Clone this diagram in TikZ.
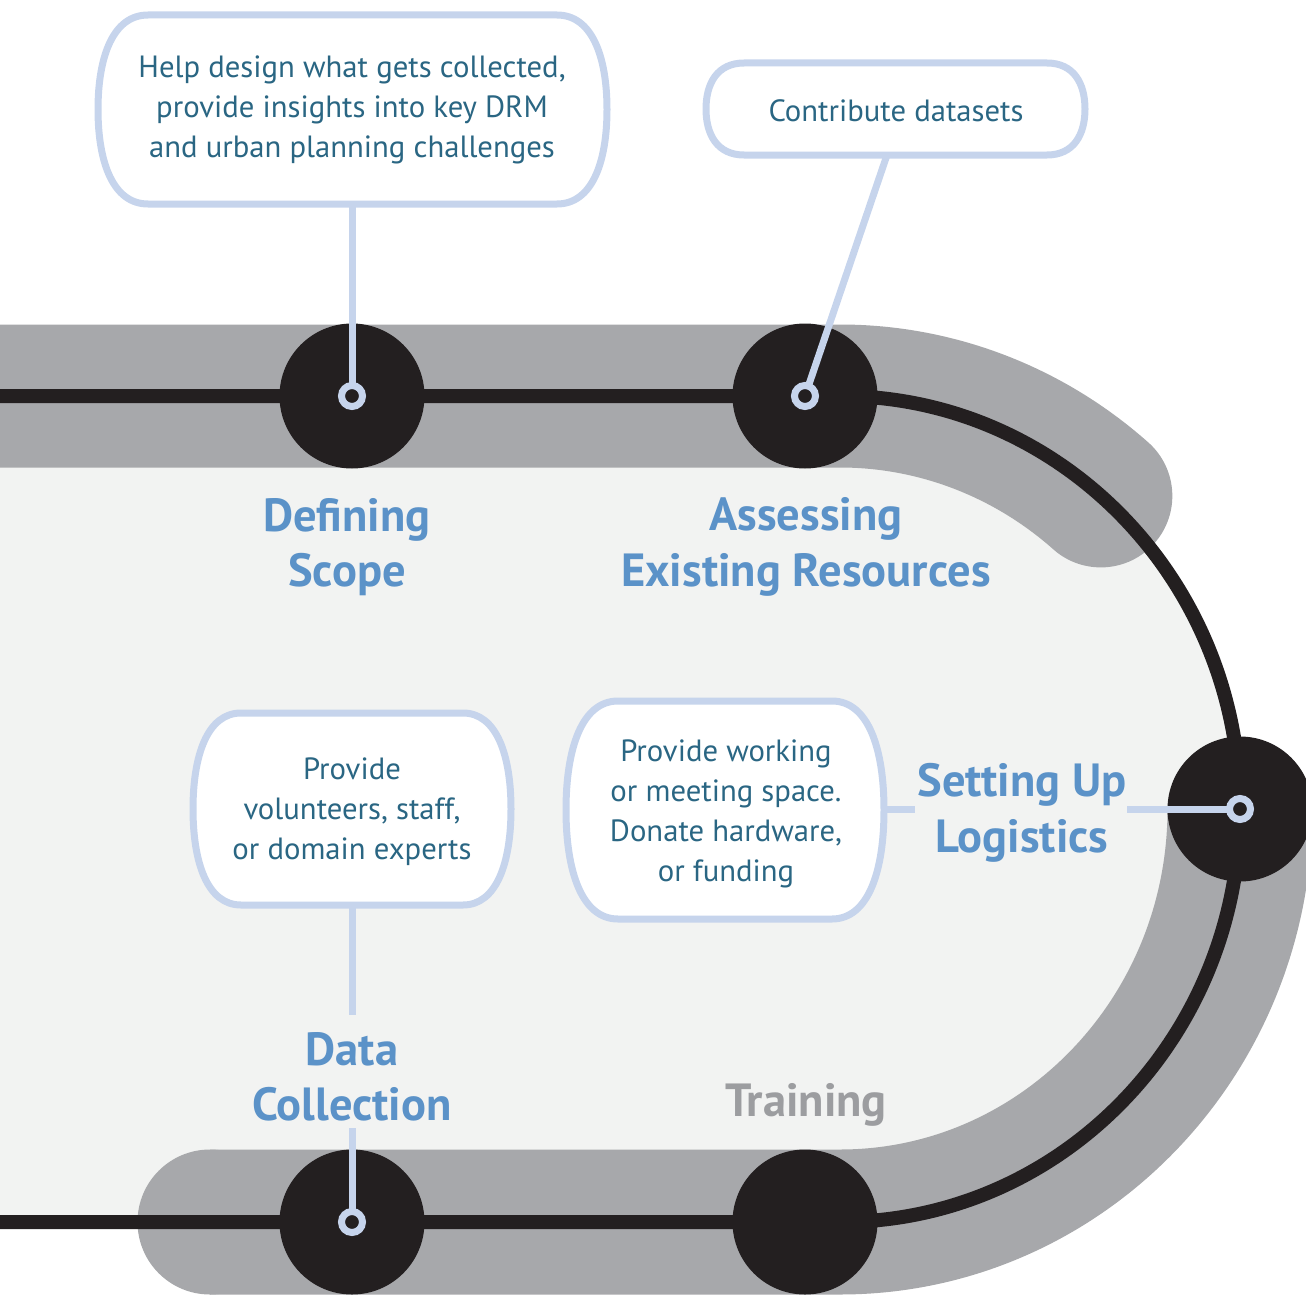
\documentclass[tikz,border=0pt]{standalone}
\usepackage{fontspec}
\setmainfont{PT Sans}
\definecolor{bandgray}{HTML}{A7A8AB}
\definecolor{fillgray}{HTML}{F2F3F2}
\definecolor{ink}{HTML}{231F20}
\definecolor{edgeblue}{HTML}{C6D4EC}
\definecolor{tealtext}{HTML}{2A6683}
\definecolor{lblue}{HTML}{5B92C8}
\definecolor{lgray}{HTML}{9C9DA0}
\tikzset{
 stage/.style={circle, fill=ink, minimum size=145pt, inner sep=0pt},
 ringmark/.style={draw=edgeblue, line width=7pt, fill=ink},
 calloutbox/.style={draw=edgeblue, fill=white, line width=7pt},
 conn/.style={draw=edgeblue, line width=7pt},
 ctext/.style={text=tealtext, align=center, font=\fontsize{30.7}{40}\selectfont, inner sep=0pt},
 stagelabel/.style={text=lblue, align=center, font=\fontsize{46.5}{55.5}\selectfont\bfseries, inner sep=0pt},
}
\newcommand{\mycallout}[5]{%
 \filldraw[calloutbox] ({#1+#5},#2) -- ({#3-#5},#2)
  .. controls ({#3-0.3*#5},#2) and (#3,{#2+0.22*(#4-#2)}) .. (#3,{(#2+#4)/2})
  .. controls (#3,{#4-0.22*(#4-#2)}) and ({#3-0.3*#5},#4) .. ({#3-#5},#4)
  -- ({#1+#5},#4)
  .. controls ({#1+0.3*#5},#4) and (#1,{#4-0.22*(#4-#2)}) .. (#1,{(#2+#4)/2})
  .. controls (#1,{#2+0.22*(#4-#2)}) and ({#1+0.3*#5},#2) .. ({#1+#5},#2) -- cycle;}
\begin{document}
\begin{tikzpicture}[x=1pt,y=-1pt]
\useasboundingbox (0,0) rectangle (1306,1295);
% light inner area
\fill[fillgray] (-20,396) -- (840,396) arc[start angle=-90,end angle=90,x radius=400,y radius=413] -- (-20,1222) -- cycle;
% gray bands
\draw[bandgray, line width=143pt, line cap=round] (-120,396) -- (840,396) arc[start angle=-90,end angle=-49.3,x radius=400,y radius=413];
\draw[bandgray, line width=145pt] (210,1222) -- (840,1222) arc[start angle=90,end angle=0,x radius=400,y radius=413];
\fill[bandgray] (210,1222) circle[radius=72.5];
% black track
\draw[ink, line width=14pt] (-20,396) -- (840,396) arc[start angle=-90,end angle=90,x radius=400,y radius=413] -- (-20,1222);
% stages
\node[stage] (s1) at (352,396) {};
\node[stage] (s2) at (805,396) {};
\node[stage] (s3) at (1240,809) {};
\node[stage] (s4) at (352,1222) {};
\node[stage] (s5) at (805,1222) {};
% callouts
\mycallout{98}{15}{607}{204}{50}
\mycallout{706}{63}{1085}{155}{38}
\mycallout{193}{713}{511}{905}{48}
\mycallout{566}{701}{884}{919}{52}
\node[ctext] (t1) at (352,110) {Help design what gets collected,\\provide insights into key DRM\\and urban planning challenges};
\node[ctext] (t2) at (896,111) {Contribute datasets};
\node[ctext] (t3) at (352,812) {Provide\\volunteers, staff,\\or domain experts};
\node[ctext] (t4) at (726,814) {Provide working\\or meeting space.\\Donate hardware,\\or funding};
% labels
\node[stagelabel] (l1) at (347,547) {Defining\\Scope};
\node[stagelabel] (l2) at (806,547) {Assessing\\Existing Resources};
\node[stagelabel] (l3) at (1022,813) {Setting Up\\Logistics};
\node[stagelabel] (l4) at (352,1077) {Data\\Collection};
\node[stagelabel, text=lgray] (l5) at (806,1105) {Training};
% connector coordinates
\coordinate (b1s) at (352,204);
\coordinate (b2s) at (887,155);
\coordinate (b3s) at (352,905);
\coordinate (c3a) at (352,1015);
\coordinate (c3b) at (352,1128);
\coordinate (b4e) at (884,809);
\coordinate (c4a) at (915,809);
\coordinate (c4b) at (1127,809);
\draw[conn] (b1s) -- (s1.center);
\draw[conn] (b2s) -- (s2.center);
\draw[conn] (b3s) -- (c3a);
\draw[conn] (c3b) -- (s4.center);
\draw[conn] (b4e) -- (c4a);
\draw[conn] (c4b) -- (s3.center);
\foreach \s in {s1,s2,s3,s4} \draw[ringmark] (\s.center) circle[radius=10.5];
\end{tikzpicture}
\end{document}
